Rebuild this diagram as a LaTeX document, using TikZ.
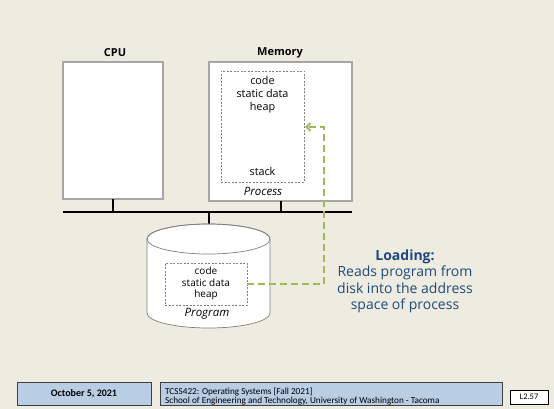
\documentclass[tikz,border=0pt]{standalone}
\usepackage{fontspec}
\setmainfont{Open Sans}
\newfontfamily\footfont{Carlito}
\usetikzlibrary{arrows.meta}
\definecolor{bg}{HTML}{EEECE1}
\definecolor{boxgray}{HTML}{A6A6A6}
\definecolor{dashgray}{HTML}{7F7F7F}
\definecolor{loadgreen}{HTML}{9BBB59}
\definecolor{navy}{HTML}{1F497D}
\definecolor{footblue}{HTML}{B9CDE5}
\definecolor{footline}{HTML}{404040}
\tikzset{
  hwbox/.style={draw=boxgray, line width=1.2pt, fill=white, inner sep=0pt},
  segbox/.style={draw=dashgray, line width=0.6pt, dash pattern=on 2pt off 1.5pt, inner sep=0pt},
  seg/.style={font=\fontsize{10.8}{13}\selectfont, align=center, inner sep=0pt},
  titletext/.style={font=\fontsize{11}{13}\selectfont\bfseries, inner sep=0pt},
  captext/.style={font=\fontsize{11.5}{13}\selectfont\itshape, inner sep=0pt},
  wire/.style={line width=1.2pt, black},
  loadpath/.style={draw=loadgreen, line width=2pt, dash pattern=on 7pt off 4pt},
  footbox/.style={draw=footline, line width=0.8pt, fill=footblue, inner sep=0pt},
  foottext/.style={font=\footfont\fontsize{9.2}{9.8}\selectfont, align=left, inner sep=0pt}
}
\begin{document}
\begin{tikzpicture}[x=1pt,y=-1pt]
\fill[bg] (0,0) rectangle (554,409);
\useasboundingbox (0,0) rectangle (554,409);

% titles
\node[titletext] (cpulbl) at (115,53) {CPU};
\node[titletext] (memlbl) at (280,53) {Memory};

% CPU and memory boxes
\node[hwbox, minimum width=100pt, minimum height=137pt] (cpu) at (113,130.5) {};
\node[hwbox, minimum width=143pt, minimum height=139pt] (mem) at (280.5,131.5) {};
\node[segbox, minimum width=83pt, minimum height=111pt] (proc) at (262.5,126.5) {};
\node[seg] (proctext) at (262.5,94.5) {code\\static data\\heap};
\node[seg] (stack) at (262.5,171) {stack};
\node[captext] (proccap) at (263,191) {Process};

% bus
\coordinate (busL) at (63,212);
\coordinate (busR) at (352,212);
\draw[line width=1.8pt] (busL) -- (busR);
\coordinate (cpubus) at (113,212);
\coordinate (membus) at (281,212);
\coordinate (diskbus) at (209,212);
\coordinate (cpubot) at (113,199);
\coordinate (membot) at (281,201);
\coordinate (disktop) at (209,224);
\draw[wire] (cpubot) -- (cpubus);
\draw[wire] (membot) -- (membus);
\draw[wire] (diskbus) -- (disktop);

% disk cylinder
\draw[draw=dashgray, line width=0.7pt, fill=white]
  (147,239) -- (147,313) arc[start angle=180, end angle=360, x radius=61.5pt, y radius=15pt]
  -- (270,239) arc[start angle=0, end angle=180, x radius=61.5pt, y radius=15pt] -- cycle;
\draw[draw=dashgray, line width=0.7pt] (208.5,239) ellipse[x radius=61.5pt, y radius=15pt];
\node[segbox, minimum width=82pt, minimum height=42pt] (prog) at (206,284) {};
\node[seg, font=\fontsize{10}{11.5}\selectfont] (progtext) at (206,283.5) {code\\static data\\heap};
\node[captext] (progcap) at (207,314) {Program};

% loading path
\coordinate (turn1) at (324,284);
\coordinate (turn2) at (324,127);
\coordinate (arrowend) at (305,127);
\draw[loadpath, -{Straight Barb[length=4pt,width=8pt]}] (prog.east |- turn1) -- (turn1) -- (turn2) -- (arrowend);

% loading text
\node[font=\fontsize{14}{16.4}\selectfont, text=navy, align=center, inner sep=0pt] (loadtxt) at (405,281.5)
  {\textbf{Loading:}\\Reads program from\\disk into the address\\space of process};

% footer
\node[footbox, minimum width=134pt, minimum height=23pt] (date) at (84,393.5)
  {\footfont\fontsize{10}{11}\selectfont\bfseries October 5, 2021};
\node[footbox, minimum width=342pt, minimum height=23pt] (course) at (331,393.5) {};
\node[foottext, anchor=west] (coursetxt) at (165,396.5)
  {TCSS422: Operating Systems [Fall 2021]\\School of Engineering and Technology, University of Washington - Tacoma};
\node[draw=black, line width=0.7pt, fill=white, minimum width=38pt, minimum height=14pt, inner sep=0pt,
  font=\footfont\fontsize{8.5}{9}\selectfont] (page) at (529,397) {L2.57};
\end{tikzpicture}
\end{document}
